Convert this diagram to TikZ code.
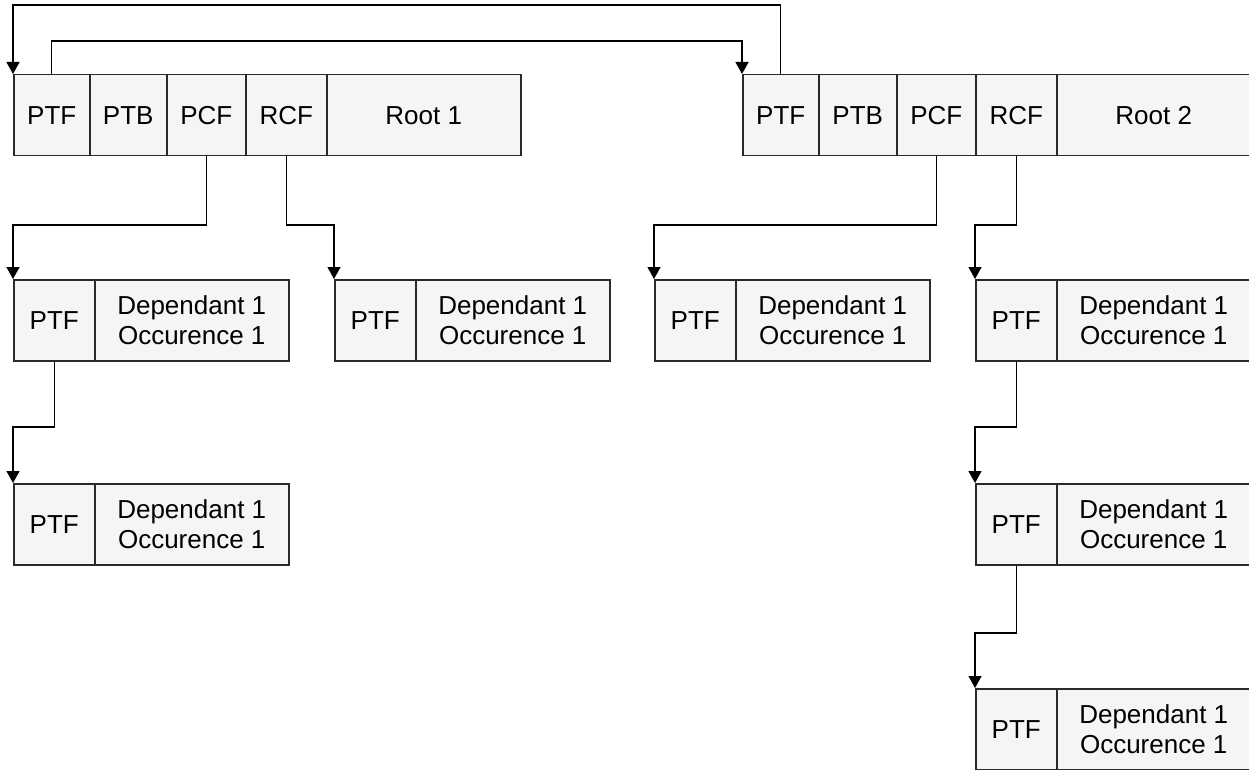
\documentclass[tikz,border=0pt]{standalone}
\usepackage{fontspec}
\setmainfont{Liberation Sans}
\usetikzlibrary{arrows.meta}
\definecolor{cellfill}{HTML}{F5F5F5}
\definecolor{cellline}{HTML}{2A2A2A}

% one dependant record: a PTF field followed by the record text
\newcommand\depbox[3]{%
  \node[cell, minimum width=81pt] (#1ptf) at (#2,#3) {PTF};
  \node[cell, minimum width=194pt] (#1txt) at (#2+81,#3) {Dependant 1\\Occurence 1};
}

\begin{document}
\begin{tikzpicture}[x=1pt,y=-1pt,
  cell/.style={draw=cellline, fill=cellfill, line width=1.5pt, anchor=north west,
    minimum height=81pt, inner sep=0pt, align=center,
    font=\fontsize{26}{30}\selectfont},
  link/.style={draw=black, line width=1.3pt, -{Triangle[length=12pt,width=13pt]}}
]
\useasboundingbox (0,0) rectangle (1249,770);

% root records
\node[cell, minimum width=76pt]  (r1ptf) at (13,74)  {PTF};
\node[cell, minimum width=77pt]  (r1ptb) at (89,74)  {PTB};
\node[cell, minimum width=79pt]  (r1pcf) at (166,74) {PCF};
\node[cell, minimum width=81pt]  (r1rcf) at (245,74) {RCF};
\node[cell, minimum width=194pt] (r1txt) at (326,74) {Root 1};

\node[cell, minimum width=76pt]  (r2ptf) at (742,74)  {PTF};
\node[cell, minimum width=78pt]  (r2ptb) at (818,74)  {PTB};
\node[cell, minimum width=79pt]  (r2pcf) at (896,74)  {PCF};
\node[cell, minimum width=81pt]  (r2rcf) at (975,74)  {RCF};
\node[cell, minimum width=194pt] (r2txt) at (1056,74) {Root 2};

% dependant records
\depbox{ca}{13}{279}
\depbox{cb}{334}{279}
\depbox{cc}{654}{279}
\depbox{cd}{975}{279}
\depbox{ce}{13}{483}
\depbox{cf}{975}{483}
\depbox{cg}{975}{688}

% routing levels of the connectors
\coordinate (topbus) at (0,5);
\coordinate (midbus) at (0,41);
\coordinate (busa) at (0,225);
\coordinate (busb) at (0,427);
\coordinate (busc) at (0,633);

% twin pointers between the roots
\draw[link] (r2ptf.north) -- (r2ptf.north |- topbus) -| (r1ptf.north west);
\draw[link] (r1ptf.north) -- (r1ptf.north |- midbus) -| (r2ptf.north west);

% child pointers
\draw[link] (r1pcf.south) -- (r1pcf.south |- busa) -| (captf.north west);
\draw[link] (r1rcf.south) -- (r1rcf.south |- busa) -| (cbptf.north west);
\draw[link] (r2pcf.south) -- (r2pcf.south |- busa) -| (ccptf.north west);
\draw[link] (r2rcf.south) -- (r2rcf.south |- busa) -| (cdptf.north west);

% twin pointers between dependants
\draw[link] (captf.south) -- (captf.south |- busb) -| (ceptf.north west);
\draw[link] (cdptf.south) -- (cdptf.south |- busb) -| (cfptf.north west);
\draw[link] (cfptf.south) -- (cfptf.south |- busc) -| (cgptf.north west);
\end{tikzpicture}
\end{document}
